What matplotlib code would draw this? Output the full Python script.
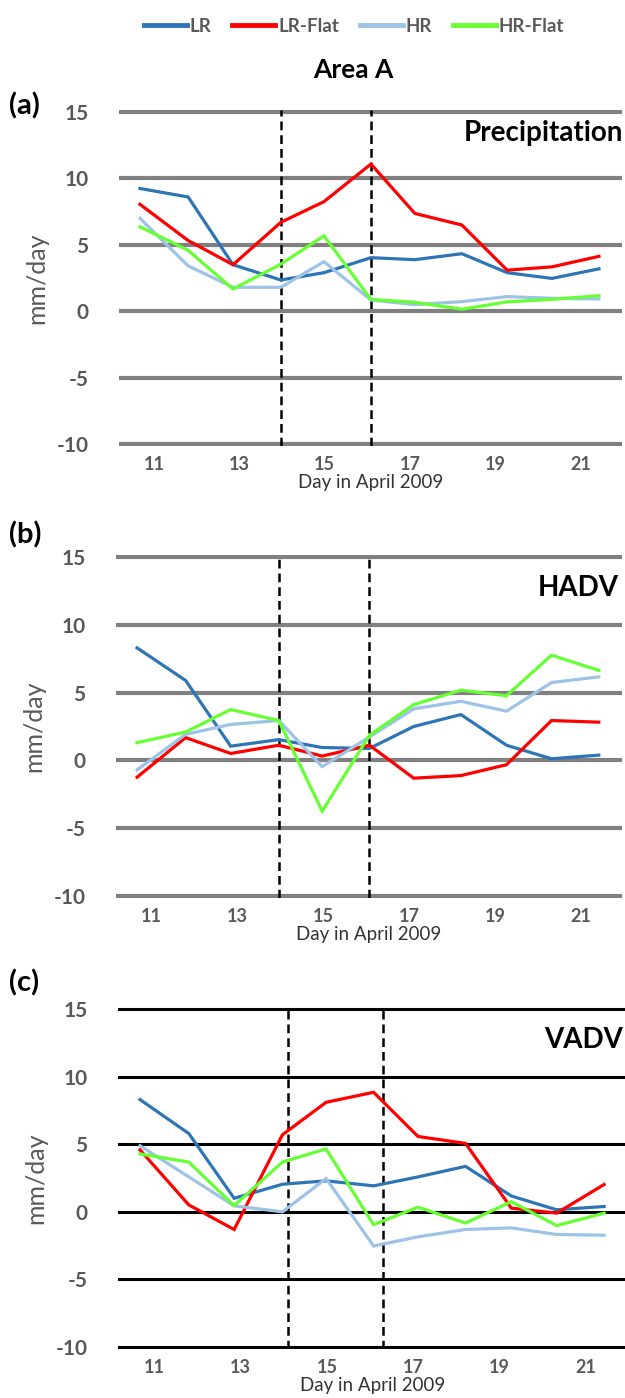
import matplotlib
matplotlib.use("Agg")
import matplotlib.pyplot as plt
from matplotlib.lines import Line2D

# day of April 2009 for each value
days = [10.67, 11.80, 12.85, 13.97, 14.98, 16.08, 17.11, 18.21, 19.27, 20.32, 21.42]

series_names = ["LR", "LR-Flat", "HR", "HR-Flat"]
series_colors = ["#2E75B6", "#FF0000", "#9DC3E6", "#66FF33"]

# (a) Precipitation
precip_lr = [9.24, 8.6, 3.5, 2.35, 2.9, 4.03, 3.88, 4.33, 2.9, 2.47, 3.19]
precip_lr_flat = [8.05, 5.32, 3.5, 6.69, 8.25, 11.08, 7.36, 6.49, 3.09, 3.34, 4.13]
precip_hr = [7.0, 3.41, 1.8, 1.8, 3.73, 0.84, 0.5, 0.72, 1.1, 0.97, 0.92]
precip_hr_flat = [6.36, 4.58, 1.67, 3.54, 5.67, 0.89, 0.67, 0.15, 0.7, 0.89, 1.17]

# (b) HADV
hadv_lr = [8.3, 5.9, 1.05, 1.53, 0.95, 0.88, 2.5, 3.38, 1.12, 0.12, 0.39]
hadv_lr_flat = [-1.24, 1.68, 0.51, 1.12, 0.32, 1.12, -1.31, -1.12, -0.32, 2.94, 2.82]
hadv_hr = [-0.7, 1.92, 2.65, 2.94, -0.46, 1.73, 3.8, 4.36, 3.63, 5.74, 6.16]
hadv_hr_flat = [1.31, 2.09, 3.75, 2.94, -3.75, 1.85, 4.11, 5.18, 4.77, 7.76, 6.64]

# (c) VADV
vadv_lr = [8.3, 5.79, 1.0, 2.04, 2.29, 1.92, 2.58, 3.36, 1.17, 0.15, 0.39]
vadv_lr_flat = [4.58, 0.51, -1.31, 5.7, 8.1, 8.84, 5.57, 5.06, 0.27, -0.1, 2.02]
vadv_hr = [4.89, 2.58, 0.44, 0.0, 2.46, -2.53, -1.85, -1.31, -1.19, -1.68, -1.73]
vadv_hr_flat = [4.28, 3.68, 0.46, 3.68, 4.65, -0.95, 0.34, -0.83, 0.75, -1.02, -0.1]

x_ticks = [11, 13, 15, 17, 19, 21]
y_ticks = [-10, -5, 0, 5, 10, 15]

W, H = 625, 1398
fig = plt.figure(figsize=(W / 100, H / 100), dpi=100)
plt.rcParams['font.family'] = ['Lato', 'DejaVu Sans']

tick_grey = "#595959"


def px_axes(left, right, top, bottom):
    return fig.add_axes([left / W, 1 - bottom / H, (right - left) / W, (bottom - top) / H])


panels = [
    dict(box=(119, 622, 110, 446), data=[precip_lr, precip_lr_flat, precip_hr, precip_hr_flat],
         name="Precipitation", letter="(a)", letter_y=106, name_xy=(623, 133),
         xlim=(10.18, 21.96), dashes=(13.97, 16.08), grid="#808080", grid_lw=3.0),
    dict(box=(116, 622, 555, 898), data=[hadv_lr, hadv_lr_flat, hadv_hr, hadv_hr_flat],
         name="HADV", letter="(b)", letter_y=535, name_xy=(619, 588),
         xlim=(10.18, 21.96), dashes=(13.97, 16.08), grid="#808080", grid_lw=3.0),
    dict(box=(118, 627, 1007, 1349), data=[vadv_lr, vadv_lr_flat, vadv_hr, vadv_hr_flat],
         name="VADV", letter="(c)", letter_y=983, name_xy=(623, 1040),
         xlim=(10.16, 21.95), dashes=(14.1, 16.3), grid="black", grid_lw=2.2),
]

for p in panels:
    ax = px_axes(*p["box"])
    for yv in y_ticks:
        ax.axhline(yv, color=p["grid"], lw=p["grid_lw"], zorder=1)
    for xv in p["dashes"]:
        ax.axvline(xv, color="black", lw=1.8, ls=(0, (3.5, 2)), zorder=2)
    for vals, c in zip(p["data"], series_colors):
        ax.plot(days, vals, color=c, lw=2.3, zorder=3, solid_joinstyle="miter")
    ax.set_xlim(*p["xlim"])
    ax.set_ylim(-10.15, 15.15)
    ax.set_yticks(y_ticks)
    ax.set_xticks(x_ticks)
    ax.set_yticklabels([str(v) for v in y_ticks], fontsize=15, fontweight="bold", color=tick_grey)
    ax.set_xticklabels([str(v) for v in x_ticks], fontsize=13, fontweight="bold", color=tick_grey)
    ax.tick_params(axis="both", length=0)
    ax.tick_params(axis="y", pad=22)
    ax.tick_params(axis="x", pad=7)
    for s in ax.spines.values():
        s.set_visible(False)
    ax.set_xlabel("Day in April 2009", fontsize=13.5, color="#333333", labelpad=1)
    ax.set_ylabel("mm/day", fontsize=18, color=tick_grey, labelpad=6)
    fig.text(p["name_xy"][0] / W, 1 - p["name_xy"][1] / H, p["name"], fontsize=20,
             fontweight="bold", ha="right", va="center")
    fig.text(9 / W, 1 - p["letter_y"] / H, p["letter"], fontsize=21, fontweight="bold",
             ha="left", va="center")

fig.text(353 / W, 1 - 70 / H, "Area A", fontsize=19, fontweight="bold", ha="center", va="center")

handles = [Line2D([0], [0], color=c, lw=3.5) for c in series_colors]
fig.legend(handles, series_names, loc="center", bbox_to_anchor=(354 / W, 1 - 26 / H), ncol=4,
           frameon=False, handlelength=2.3, handletextpad=0.15, columnspacing=1.1,
           prop=dict(size=13.5, weight="bold"), labelcolor=tick_grey)

fig.savefig("out.png", dpi=100)
